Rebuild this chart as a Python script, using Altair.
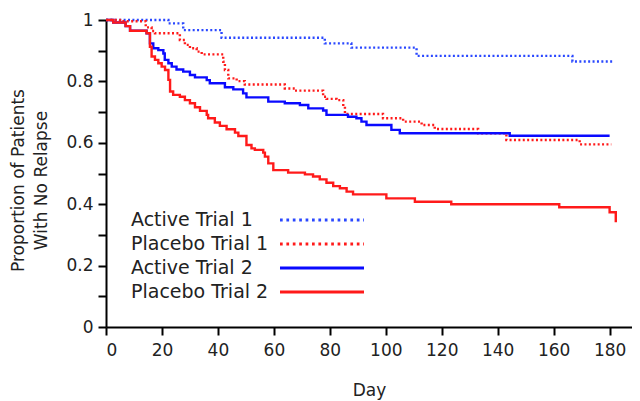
import altair as alt
import pandas as pd

series_names = ["Active Trial 1", "Placebo Trial 1", "Active Trial 2", "Placebo Trial 2"]
series_colors = ["#2a48ff", "#ff1a1a", "#0a0aff", "#ff1a1a"]
series_dash = [[2, 2.4], [2, 2.4], [1, 0], [1, 0]]
legend_dash = [[2.7, 3.7], [2.7, 3.7], [1, 0], [1, 0]]

# Active Trial 1 (dotted blue)
a1_day = [0, 22.3, 27.6, 41.3, 78.2, 87.7, 111, 166.7, 181.2]
a1_prop = [1.0, 0.989, 0.967, 0.942, 0.924, 0.910, 0.883, 0.865, 0.865]

# Placebo Trial 1 (dotted red)
p1_day = [0, 5, 14.2, 16.3, 17.5, 26.4, 28.2, 30, 32.4, 34.2, 41.9, 42.5, 43.7, 46.7,
          49.6, 63.9, 67.5, 77.6, 78.8, 82.4, 84.8, 85.4, 99, 106.2, 112.8, 117.5,
          133, 143.1, 169.3, 180.6]
p1_prop = [1.0, 0.996, 0.976, 0.964, 0.957, 0.935, 0.919, 0.908, 0.897, 0.888, 0.864,
           0.837, 0.810, 0.801, 0.790, 0.777, 0.770, 0.750, 0.743, 0.739, 0.718, 0.694,
           0.680, 0.669, 0.658, 0.645, 0.631, 0.609, 0.595, 0.595]

# Active Trial 2 (solid blue)
a2_day = [0, 2.6, 7, 8.6, 14.5, 15.7, 16.9, 18.7, 20.5, 21, 22.3, 23.5, 25.2, 27.6,
          30, 31.8, 36, 37.1, 42.5, 45.5, 49, 50.2, 58, 63.9, 69.3, 72.3, 77.6, 78.8,
          86.5, 89.5, 91.3, 93.1, 102, 105, 144.3, 180]
a2_prop = [1.0, 0.992, 0.980, 0.965, 0.957, 0.924, 0.908, 0.902, 0.891, 0.870, 0.859,
           0.848, 0.839, 0.832, 0.821, 0.813, 0.804, 0.794, 0.781, 0.774, 0.761, 0.748,
           0.734, 0.729, 0.723, 0.712, 0.705, 0.691, 0.685, 0.680, 0.669, 0.658, 0.642,
           0.631, 0.623, 0.623]

# Placebo Trial 2 (solid red)
p2_day = [0, 2.6, 7, 8.6, 14.5, 15.7, 16.3, 17.5, 18.7, 19.9, 21.1, 22.3, 22.9, 24,
          26.4, 28.2, 30, 31.8, 33.6, 36, 36.5, 38.9, 40.7, 43.1, 46.1, 47.3, 50.2, 52,
          53.2, 56.2, 56.8, 58, 59.8, 65.1, 71.1, 74, 76.4, 78.8, 81.2, 83.6, 86, 88.3,
          100.2, 110.4, 123.4, 162, 180, 182.2]
p2_prop = [1.0, 0.992, 0.980, 0.965, 0.957, 0.913, 0.881, 0.870, 0.859, 0.848, 0.837,
           0.805, 0.767, 0.756, 0.750, 0.739, 0.729, 0.716, 0.704, 0.691, 0.680, 0.666,
           0.655, 0.644, 0.633, 0.622, 0.593, 0.582, 0.577, 0.568, 0.555, 0.533, 0.511,
           0.503, 0.497, 0.490, 0.481, 0.470, 0.459, 0.452, 0.441, 0.432, 0.419, 0.408,
           0.400, 0.390, 0.374, 0.341]

x_ticks = [0, 20, 40, 60, 80, 100, 120, 140, 160, 180]
y_ticks = [0, 0.1, 0.2, 0.3, 0.4, 0.5, 0.6, 0.7, 0.8, 0.9, 1.0]

rows = []
for name, days, props in zip(series_names, [a1_day, p1_day, a2_day, p2_day],
                             [a1_prop, p1_prop, a2_prop, p2_prop]):
    for d, p in zip(days, props):
        rows.append({"series": name, "day": d, "prop": p})
df = pd.DataFrame(rows)
legend_df = pd.DataFrame({"series": series_names})

FONT = "DejaVu Sans"
TXT = "#222222"

color_scale = alt.Scale(domain=series_names, range=series_colors)

lines = alt.Chart(df).mark_line(interpolate="step-after", strokeWidth=2.4).encode(
    x=alt.X("day:Q", scale=alt.Scale(domain=[0, 188], nice=False, zero=False),
            axis=alt.Axis(values=x_ticks, title="Day", titleY=55, titleBaseline="top",
                          labelPadding=7)),
    y=alt.Y("prop:Q", scale=alt.Scale(domain=[0, 1], nice=False),
            axis=alt.Axis(values=y_ticks,
                          labelExpr="round(datum.value*10) % 2 == 0 ? toString(round(datum.value*10)/10) : ''",
                          title=["Proportion of Patients", "With No Relapse"],
                          titleX=-96, titleY=160, titleBaseline="top", titleAlign="center",
                          titleAngle=270, titleLineHeight=23, labelPadding=5)),
    color=alt.Color("series:N", scale=color_scale, legend=None),
    strokeDash=alt.StrokeDash("series:N", scale=alt.Scale(domain=series_names, range=series_dash),
                              legend=None),
)

legend_y = alt.Y("series:N", scale=alt.Scale(type="point", domain=series_names,
                                              range=[200, 272], padding=0), axis=None)

legend_text = alt.Chart(legend_df).mark_text(
    align="left", baseline="middle", font=FONT, fontSize=19, color=TXT
).encode(x=alt.value(25), y=legend_y, text="series:N")

legend_rule = alt.Chart(legend_df).mark_rule(strokeWidth=3).encode(
    x=alt.value(174), x2=alt.value(258), y=legend_y,
    color=alt.Color("series:N", scale=color_scale, legend=None),
    strokeDash=alt.StrokeDash("series:N", scale=alt.Scale(domain=series_names, range=legend_dash),
                              legend=None),
)

chart = alt.layer(lines, legend_text, legend_rule).resolve_scale(
    y="independent", strokeDash="independent"
).properties(
    width=526, height=307,
    autosize=alt.AutoSizeParams(type="none"),
    padding={"left": 98, "top": 12, "right": 0, "bottom": 74},
).configure_view(stroke=None).configure_axis(
    grid=False, domainColor="black", domainWidth=2, tickColor="black", tickWidth=2,
    tickSize=8, labelFont=FONT, labelFontSize=17, labelColor=TXT,
    titleFont=FONT, titleFontSize=17, titleFontWeight="normal", titleColor=TXT,
)

chart.save("out.html", embed_options={"renderer": "svg", "actions": False})
